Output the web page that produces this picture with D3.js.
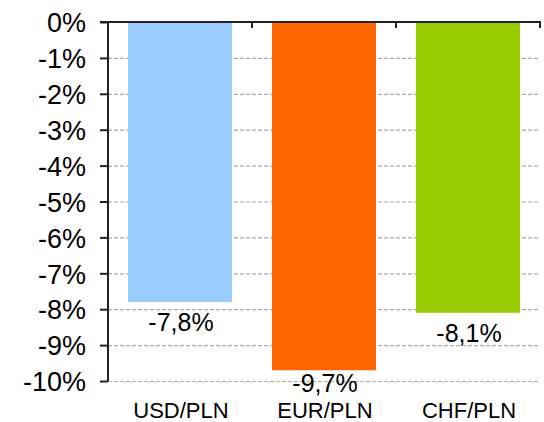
<!DOCTYPE html>
<html>
<head>
<meta charset="utf-8">
<script src="https://cdn.jsdelivr.net/npm/d3@7"></script>
<style>
  body { margin: 0; background: #fff; }
  text { font-family: Arial, "Liberation Sans", sans-serif; fill: #000; }
</style>
</head>
<body>
<script>
var categories = ["USD/PLN", "EUR/PLN", "CHF/PLN"];
var values = [-7.8, -9.7, -8.1];
var valueLabels = ["-7,8%", "-9,7%", "-8,1%"];
var colors = ["#99ccff", "#ff6600", "#99cc00"];
var yTicks = [0, -1, -2, -3, -4, -5, -6, -7, -8, -9, -10];

var width = 544,
    height = 422;

var y = d3.scaleLinear()
    .domain([-10, 0])
    .range([381, 22]);

var x = d3.scaleBand()
    .domain(categories)
    .range([108, 540]);

var svg = d3.select("body").append("svg")
    .attr("width", width)
    .attr("height", height);

// dashed gridlines
svg.append("g").selectAll("line")
    .data(yTicks.filter(function(d) { return d < 0; }))
  .enter().append("line")
    .attr("x1", 108)
    .attr("x2", 540)
    .attr("y1", function(d) { return y(d) + 0.5; })
    .attr("y2", function(d) { return y(d) + 0.5; })
    .attr("stroke", "#ababab")
    .attr("stroke-width", 1.2)
    .attr("stroke-dasharray", "4,2");

var bw = x.bandwidth() * 0.722;

svg.append("g").selectAll("rect")
    .data(values)
  .enter().append("rect")
    .attr("x", function(d, i) { return x(categories[i]) + (x.bandwidth() - bw) / 2; })
    .attr("y", y(0))
    .attr("width", bw)
    .attr("height", function(d) { return y(d) - y(0); })
    .attr("fill", function(d, i) { return colors[i]; });

// y axis
var yAxis = d3.axisLeft(y)
    .tickValues(yTicks)
    .tickSize(8)
    .tickPadding(14)
    .tickFormat(function(d) { return String(d) + "%"; });

var ga = svg.append("g")
    .attr("transform", "translate(108,0)")
    .call(yAxis);
ga.select(".domain").attr("stroke", "#222").attr("stroke-width", 2)
    .attr("d", "M0," + y(0) + "V" + y(-10));
ga.selectAll(".tick line").attr("stroke", "#222").attr("stroke-width", 2);
ga.selectAll(".tick text")
    .style("font-family", "Arial, 'Liberation Sans', sans-serif")
    .style("font-size", "27px")
    .attr("fill", "#000")
    .attr("dy", "0.36em");

// category axis along 0%
svg.append("line")
    .attr("x1", 100)
    .attr("x2", 541)
    .attr("y1", y(0))
    .attr("y2", y(0))
    .attr("stroke", "#222")
    .attr("stroke-width", 2);

svg.append("g").selectAll("line")
    .data(categories)
  .enter().append("line")
    .attr("x1", function(d) { return x(d) + x.bandwidth(); })
    .attr("x2", function(d) { return x(d) + x.bandwidth(); })
    .attr("y1", y(0))
    .attr("y2", y(0) + 6)
    .attr("stroke", "#222")
    .attr("stroke-width", 2);

// value labels
svg.append("g").selectAll("text")
    .data(values)
  .enter().append("text")
    .attr("x", function(d, i) { return x(categories[i]) + x.bandwidth() / 2 + 1; })
    .attr("y", function(d) { return Math.min(y(d) + 29, y(-10) + 11); })
    .attr("text-anchor", "middle")
    .style("font-size", "25px")
    .text(function(d, i) { return valueLabels[i]; });

// category labels
svg.append("g").selectAll("text")
    .data(categories)
  .enter().append("text")
    .attr("x", function(d) { return x(d) + x.bandwidth() / 2 + 1; })
    .attr("y", 418)
    .attr("text-anchor", "middle")
    .style("font-size", "22px")
    .text(function(d) { return d; });
</script>
</body>
</html>
